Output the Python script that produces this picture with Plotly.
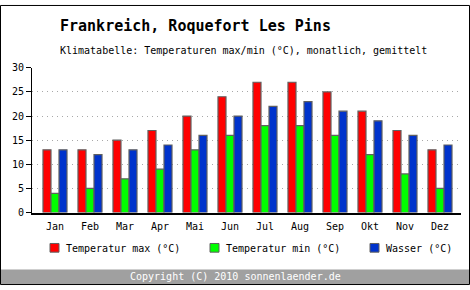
import plotly.graph_objects as go

months = ["Jan", "Feb", "Mar", "Apr", "Mai", "Jun", "Jul", "Aug", "Sep", "Okt", "Nov", "Dez"]
temp_max = [13, 13, 15, 17, 20, 24, 27, 27, 25, 21, 17, 13]
temp_min = [4, 5, 7, 9, 13, 16, 18, 18, 16, 12, 8, 5]
wasser = [13, 12, 13, 14, 16, 20, 22, 23, 21, 19, 16, 14]
y_ticks = [0, 5, 10, 15, 20, 25, 30]

series_names = ["Temperatur max (°C)", "Temperatur min (°C)", "Wasser (°C)"]
series_colors = ["#ff0000", "#00ff00", "#0033cc"]
series_values = [temp_max, temp_min, wasser]

W, H = 470, 290
FONT = "DejaVu Sans Mono"

def px(x):
    return x / W

def py(y):
    return 1 - y / H

fig = go.Figure()
x_idx = list(range(len(months)))
for name, color, vals in zip(series_names, series_colors, series_values):
    fig.add_trace(go.Bar(
        x=x_idx, y=vals, name=name,
        marker=dict(color=color, line=dict(color="#606060", width=1.2)),
        showlegend=False,
    ))

shapes = []
annotations = []

# Outer border
shapes.append(dict(type="rect", xref="paper", yref="paper",
                   x0=px(0.5), x1=px(469.5), y0=py(0.5), y1=py(289.5),
                   line=dict(color="black", width=1), layer="above"))
# Footer bar
shapes.append(dict(type="rect", xref="paper", yref="paper",
                   x0=px(1), x1=px(469), y0=py(274), y1=py(289),
                   fillcolor="#a0a0a0", line=dict(width=0), layer="below"))
annotations.append(dict(text="Copyright (C) 2010 sonnenlaender.de", xref="paper", yref="paper",
                        x=px(235), y=py(281.5), showarrow=False, xanchor="center", yanchor="middle",
                        font=dict(family=FONT, size=10, color="white")))

# Titles
annotations.append(dict(text="<b>Frankreich, Roquefort Les Pins</b>", xref="paper", yref="paper",
                        x=px(58), y=py(22), showarrow=False, xanchor="left", yanchor="middle",
                        font=dict(family=FONT, size=15, color="black")))
annotations.append(dict(text="Klimatabelle: Temperaturen max/min (°C), monatlich, gemittelt",
                        xref="paper", yref="paper",
                        x=px(58), y=py(47), showarrow=False, xanchor="left", yanchor="middle",
                        font=dict(family=FONT, size=10, color="black")))

# Legend (manual)
legend_x = [50, 210, 370]
for lx, name, color in zip(legend_x, series_names, series_colors):
    shapes.append(dict(type="rect", xref="paper", yref="paper",
                       x0=px(lx), x1=px(lx + 9), y0=py(247), y1=py(256),
                       fillcolor=color, line=dict(color="#606060", width=1)))
    annotations.append(dict(text=name, xref="paper", yref="paper",
                            x=px(lx + 14), y=py(252), showarrow=False,
                            xanchor="left", yanchor="middle",
                            font=dict(family=FONT, size=10, color="black")))

fig.update_layout(
    width=W, height=H,
    margin=dict(l=0, r=0, t=0, b=0),
    paper_bgcolor="white", plot_bgcolor="white",
    barmode="group", bargap=0.314, bargroupgap=0,
    shapes=shapes, annotations=annotations,
    font=dict(family=FONT, size=10, color="black"),
    xaxis=dict(domain=[px(32), px(461)], range=[-0.657, 11.6],
               tickmode="array", tickvals=x_idx, ticktext=months,
               showline=True, linecolor="black", linewidth=1.5,
               showgrid=False, zeroline=False,
               ticks="outside", ticklen=4, tickcolor="rgba(0,0,0,0)",
               tickfont=dict(family=FONT, size=10, color="black")),
    yaxis=dict(domain=[py(215), py(65)], range=[0, 30],
               tickmode="array", tickvals=y_ticks,
               showline=True, linecolor="black", linewidth=1,
               ticks="outside", ticklen=5, tickcolor="black",
               showgrid=True, gridcolor="#a8a8a8", griddash="1px,4px", gridwidth=1,
               zeroline=False,
               tickfont=dict(family=FONT, size=10, color="black")),
)

fig.write_html("out.html")
